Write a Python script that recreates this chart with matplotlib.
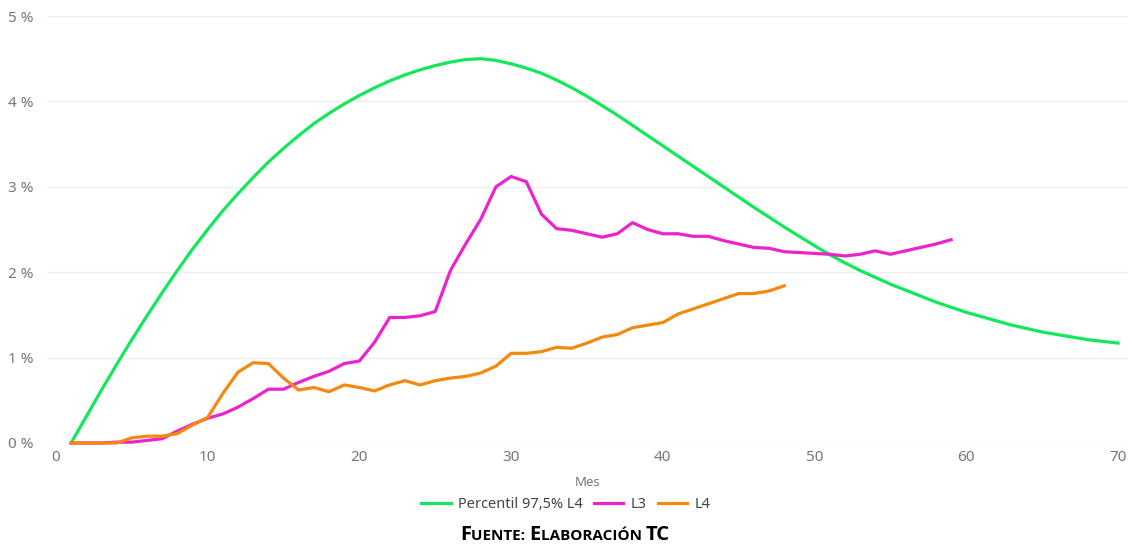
import numpy as np
import matplotlib.pyplot as plt

# Datos (% por mes)
meses_p = list(range(1, 71))
percentil = [0.00, 0.31, 0.62, 0.92, 1.21, 1.49, 1.76, 2.02, 2.27, 2.50,
             2.72, 2.92, 3.11, 3.29, 3.45, 3.60, 3.74, 3.86, 3.97, 4.07,
             4.16, 4.24, 4.31, 4.37, 4.42, 4.46, 4.49, 4.50, 4.48, 4.44,
             4.39, 4.33, 4.25, 4.16, 4.06, 3.95, 3.84, 3.72, 3.60, 3.48,
             3.36, 3.24, 3.12, 3.00, 2.88, 2.76, 2.645, 2.53, 2.42, 2.31,
             2.205, 2.11, 2.02, 1.94, 1.86, 1.79, 1.72, 1.65, 1.59, 1.53,
             1.48, 1.43, 1.38, 1.34, 1.30, 1.27, 1.24, 1.21, 1.19, 1.17]

meses_l3 = list(range(1, 60))
l3 = [0.00, 0.00, 0.00, 0.01, 0.01, 0.03, 0.05, 0.14, 0.22, 0.29,
      0.34, 0.42, 0.52, 0.63, 0.63, 0.71, 0.78, 0.84, 0.93, 0.96,
      1.18, 1.47, 1.47, 1.49, 1.54, 2.02, 2.33, 2.62, 3.00, 3.12,
      3.06, 2.68, 2.51, 2.49, 2.45, 2.41, 2.45, 2.58, 2.50, 2.45,
      2.45, 2.42, 2.42, 2.37, 2.33, 2.29, 2.28, 2.24, 2.23, 2.22,
      2.21, 2.19, 2.21, 2.25, 2.21, 2.25, 2.29, 2.33, 2.38]

meses_l4 = list(range(1, 49))
l4 = [0.00, 0.00, 0.00, 0.00, 0.06, 0.08, 0.08, 0.11, 0.21, 0.30,
      0.58, 0.83, 0.94, 0.93, 0.76, 0.62, 0.65, 0.60, 0.68, 0.65,
      0.61, 0.68, 0.73, 0.68, 0.73, 0.76, 0.78, 0.82, 0.90, 1.05,
      1.05, 1.07, 1.12, 1.11, 1.17, 1.24, 1.27, 1.35, 1.38, 1.41,
      1.51, 1.57, 1.63, 1.69, 1.75, 1.75, 1.78, 1.84]

yticks = [0, 1, 2, 3, 4, 5]
xticks = [0, 10, 20, 30, 40, 50, 60, 70]

plt.rcParams['font.family'] = ['Noto Sans', 'DejaVu Sans']

fig = plt.figure(figsize=(11.32, 5.45), dpi=100)
ax = fig.add_axes([47 / 1132, 102 / 545, 1081 / 1132, 427 / 545])

ax.plot(meses_p, percentil, color='#12E85A', lw=2.3, label='Percentil 97,5% L4', clip_on=False)
ax.plot(meses_l3, l3, color='#EE22CC', lw=2.3, label='L3', clip_on=False)
ax.plot(meses_l4, l4, color='#F5890F', lw=2.3, label='L4', clip_on=False)

ax.set_xlim(-0.59, 70.66)
ax.set_ylim(0, 5)
ax.set_xticks(xticks)
ax.set_yticks(yticks)
ax.set_yticklabels([f'{v} %' for v in yticks])
ax.tick_params(length=0, labelsize=11, labelcolor='#777777')
ax.tick_params(axis='y', pad=10)
ax.tick_params(axis='x', pad=5)
ax.grid(axis='y', color='#EEEEEE', lw=1)
ax.set_axisbelow(True)
for s in ax.spines.values():
    s.set_visible(False)

ax.set_xlabel('Mes', fontsize=9.5, color='#777777', labelpad=8)

fig.legend(loc='center', bbox_to_anchor=(566 / 1132, 1 - 505 / 545), ncol=3,
           frameon=False, fontsize=10.5, handlelength=2.0, handletextpad=0.5,
           columnspacing=0.8, labelcolor='#444444')

# Fuente en versalitas
partes = [('F', 14.5), ('UENTE: ', 11), ('E', 14.5), ('LABORACIÓN ', 11), ('TC', 14.5)]
y_base = 1 - 540 / 545
textos = []
for txt, sz in partes:
    t = fig.text(0, y_base, txt, fontsize=sz, fontweight='bold', family='Open Sans',
                 va='baseline', ha='left', color='black')
    textos.append(t)
fig.canvas.draw()
r = fig.canvas.get_renderer()
anchos = [t.get_window_extent(r).width for t in textos]
total = sum(anchos)
x0 = 565 - total / 2
for t, w in zip(textos, anchos):
    t.set_position((x0 / 1132, y_base))
    x0 += w

fig.savefig('out.png', dpi=100, facecolor='white')
